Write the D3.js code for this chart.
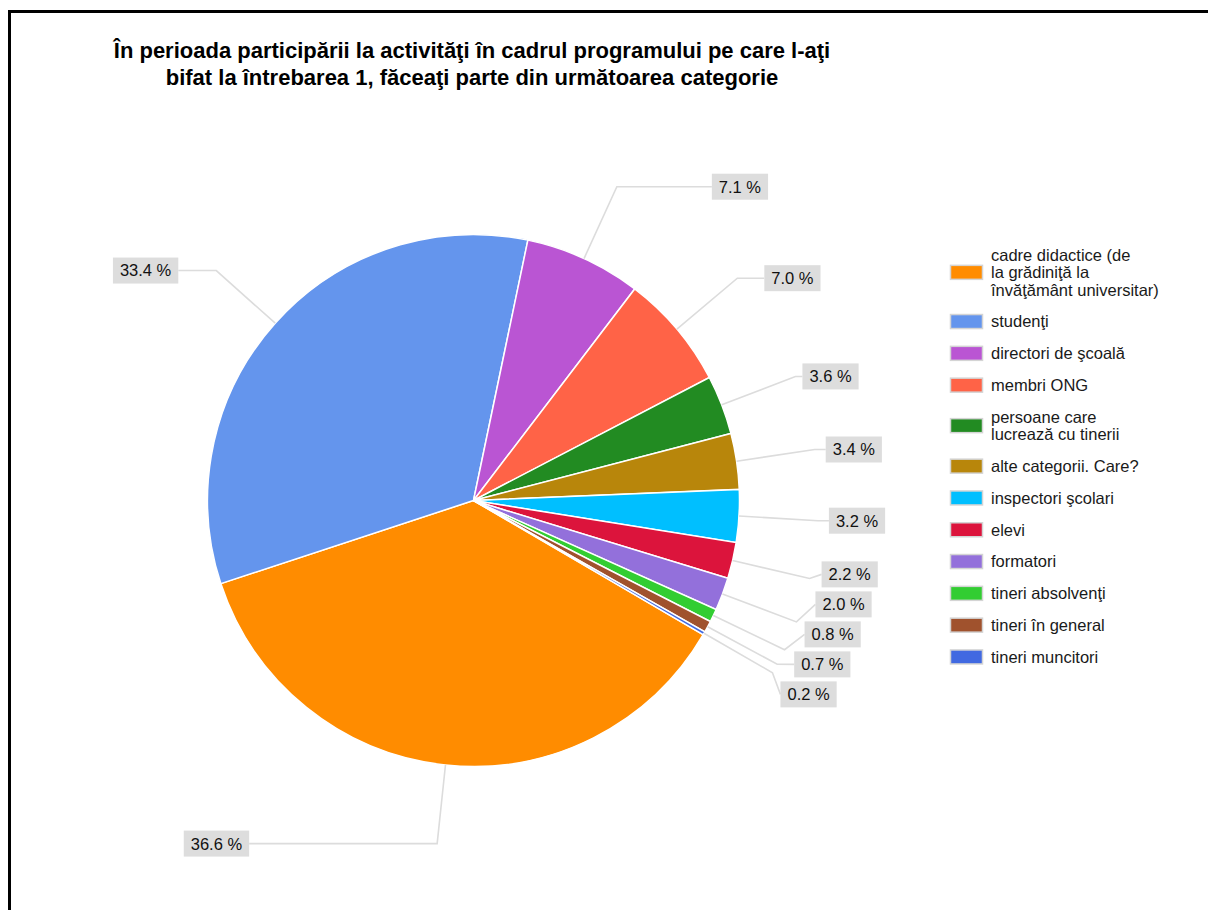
<!DOCTYPE html>
<html>
<head>
<meta charset="utf-8">
<script src="https://cdn.jsdelivr.net/npm/d3@7"></script>
<style>
  body { margin: 0; background: #fff; }
  svg { display: block; }
  text { font-family: "Liberation Sans", Arial, sans-serif; }
</style>
</head>
<body>
<svg id="chart" width="1208" height="910"></svg>
<script>
// ---- data -------------------------------------------------------------
const titleLines = [
  "În perioada participării la activităţi în cadrul programului pe care l-aţi",
  "bifat la întrebarea 1, făceaţi parte din următoarea categorie"
];
// legend names, "\n" marks where the legend wraps a name
const categories = [
  "cadre didactice (de\nla grădiniţă la\nînvăţământ universitar)",
  "studenţi",
  "directori de şcoală",
  "membri ONG",
  "persoane care\nlucrează cu tinerii",
  "alte categorii. Care?",
  "inspectori şcolari",
  "elevi",
  "formatori",
  "tineri absolvenţi",
  "tineri în general",
  "tineri muncitori"
];
const shares = [36.6, 33.4, 7.1, 7.0, 3.6, 3.4, 3.2, 2.2, 2.0, 0.8, 0.7, 0.2];
const colors = ["#ff8c00", "#6495ed", "#ba55d3", "#ff6347", "#228b22", "#b8860b",
                "#00bfff", "#dc143c", "#9370db", "#32cd32", "#a0522d", "#4169e1"];

// ---- layout -----------------------------------------------------------
const cx = 473.5, cy = 500.5, radius = 266, kneeRadius = 345;
const startDeg = 120.3;
// horizontal run of each leader line from its knee to the label box
const leaderRun = [188, 38, 95, 27, 7, 11, 11, 12, 19, 20, 17, 8];
const boxH = 26, boxPad = 7, labelGap = 30;
const fontSize = 16.5;

const svg = d3.select("#chart");

// frame
svg.append("path")
  .attr("d", "M9.5,910 V11.5 H1208")
  .attr("fill", "none").attr("stroke", "#000").attr("stroke-width", 3);

// title
svg.append("g").selectAll("text").data(titleLines).join("text")
  .attr("x", 472).attr("y", (d, i) => 58 + i * 27)
  .attr("text-anchor", "middle")
  .attr("font-size", 22).attr("font-weight", "bold").attr("fill", "#000")
  .text(d => d);

// pie
const pie = d3.pie().sort(null).value(d => d)
  .startAngle(startDeg * Math.PI / 180)
  .endAngle(startDeg * Math.PI / 180 + 2 * Math.PI);
const arcs = pie(shares);
const arc = d3.arc().innerRadius(0).outerRadius(radius);

const g = svg.append("g").attr("transform", `translate(${cx},${cy})`);
g.selectAll("path").data(arcs).join("path")
  .attr("d", arc)
  .attr("fill", (d, i) => colors[i])
  .attr("stroke", "#fff").attr("stroke-width", 1.5);

// label geometry
const polar = (a, rr) => [cx + rr * Math.sin(a), cy - rr * Math.cos(a)];
const labels = arcs.map((d, i) => {
  const mid = (d.startAngle + d.endAngle) / 2;
  const edge = polar(mid, radius);
  const knee = polar(mid, kneeRadius);
  return { i, edge, knee, right: Math.sin(mid) > 0, y: knee[1],
           text: d3.format(".1f")(shares[i]) + " %" };
});

// spread labels on each side so the boxes do not overlap
function spread(items) {
  items.sort((a, b) => a.y - b.y);
  const clusters = items.map(it => ({ items: [it] }));
  const place = c => {
    const n = c.items.length;
    const mean = d3.mean(c.items, it => it.knee[1]);
    // crowded groups lean slightly upward, away from the bottom of the pie
    const first = mean - (n - 1) / 2 * labelGap - (n > 1 ? 3 : 0);
    c.items.forEach((it, k) => it.y = first + k * labelGap);
  };
  clusters.forEach(place);
  let merged = true;
  while (merged) {
    merged = false;
    for (let k = 0; k < clusters.length - 1; k++) {
      const a = clusters[k], b = clusters[k + 1];
      if (a.items[a.items.length - 1].y + labelGap > b.items[0].y) {
        a.items = a.items.concat(b.items);
        clusters.splice(k + 1, 1);
        place(a);
        merged = true;
        break;
      }
    }
  }
}
spread(labels.filter(l => l.right));
spread(labels.filter(l => !l.right));

const lg = svg.append("g");
labels.forEach(l => {
  const t = lg.append("text")
    .attr("font-size", fontSize).attr("fill", "#111")
    .attr("text-anchor", "middle").attr("dy", "0.36em")
    .text(l.text);
  const w = t.node().getComputedTextLength() + 2 * boxPad;
  const attachX = l.right ? l.knee[0] + leaderRun[l.i] : l.knee[0] - leaderRun[l.i];
  const bx = l.right ? attachX : attachX - w;
  lg.insert("path", "text")
    .attr("d", d3.line()([l.edge, l.knee, [attachX, l.y]]))
    .attr("fill", "none").attr("stroke", "#dcdcdc").attr("stroke-width", 1.6);
  lg.insert("rect", "text")
    .attr("x", bx).attr("y", l.y - boxH / 2)
    .attr("width", w).attr("height", boxH)
    .attr("fill", "#dddddd");
  t.attr("x", bx + w / 2).attr("y", l.y);
});

// legend
const lineH = 17.4, itemGap = 14.4;
const legend = svg.append("g");
let legendY = 246.25;
categories.forEach((name, i) => {
  const lines = name.split("\n");
  const h = lines.length * lineH;
  const mid = legendY + h / 2;
  const y0 = legendY;
  legend.append("rect")
    .attr("x", 950.5).attr("y", mid - 7)
    .attr("width", 32).attr("height", 14)
    .attr("fill", colors[i]).attr("stroke", "#d4d4d4").attr("stroke-width", 1.5);
  legend.append("g").selectAll("text").data(lines).join("text")
    .attr("x", 991).attr("y", (d, k) => y0 + lineH * (k + 0.5))
    .attr("dy", "0.36em")
    .attr("font-size", fontSize).attr("fill", "#1a1a1a")
    .text(d => d);
  legendY += h + itemGap;
});
</script>
</body>
</html>
